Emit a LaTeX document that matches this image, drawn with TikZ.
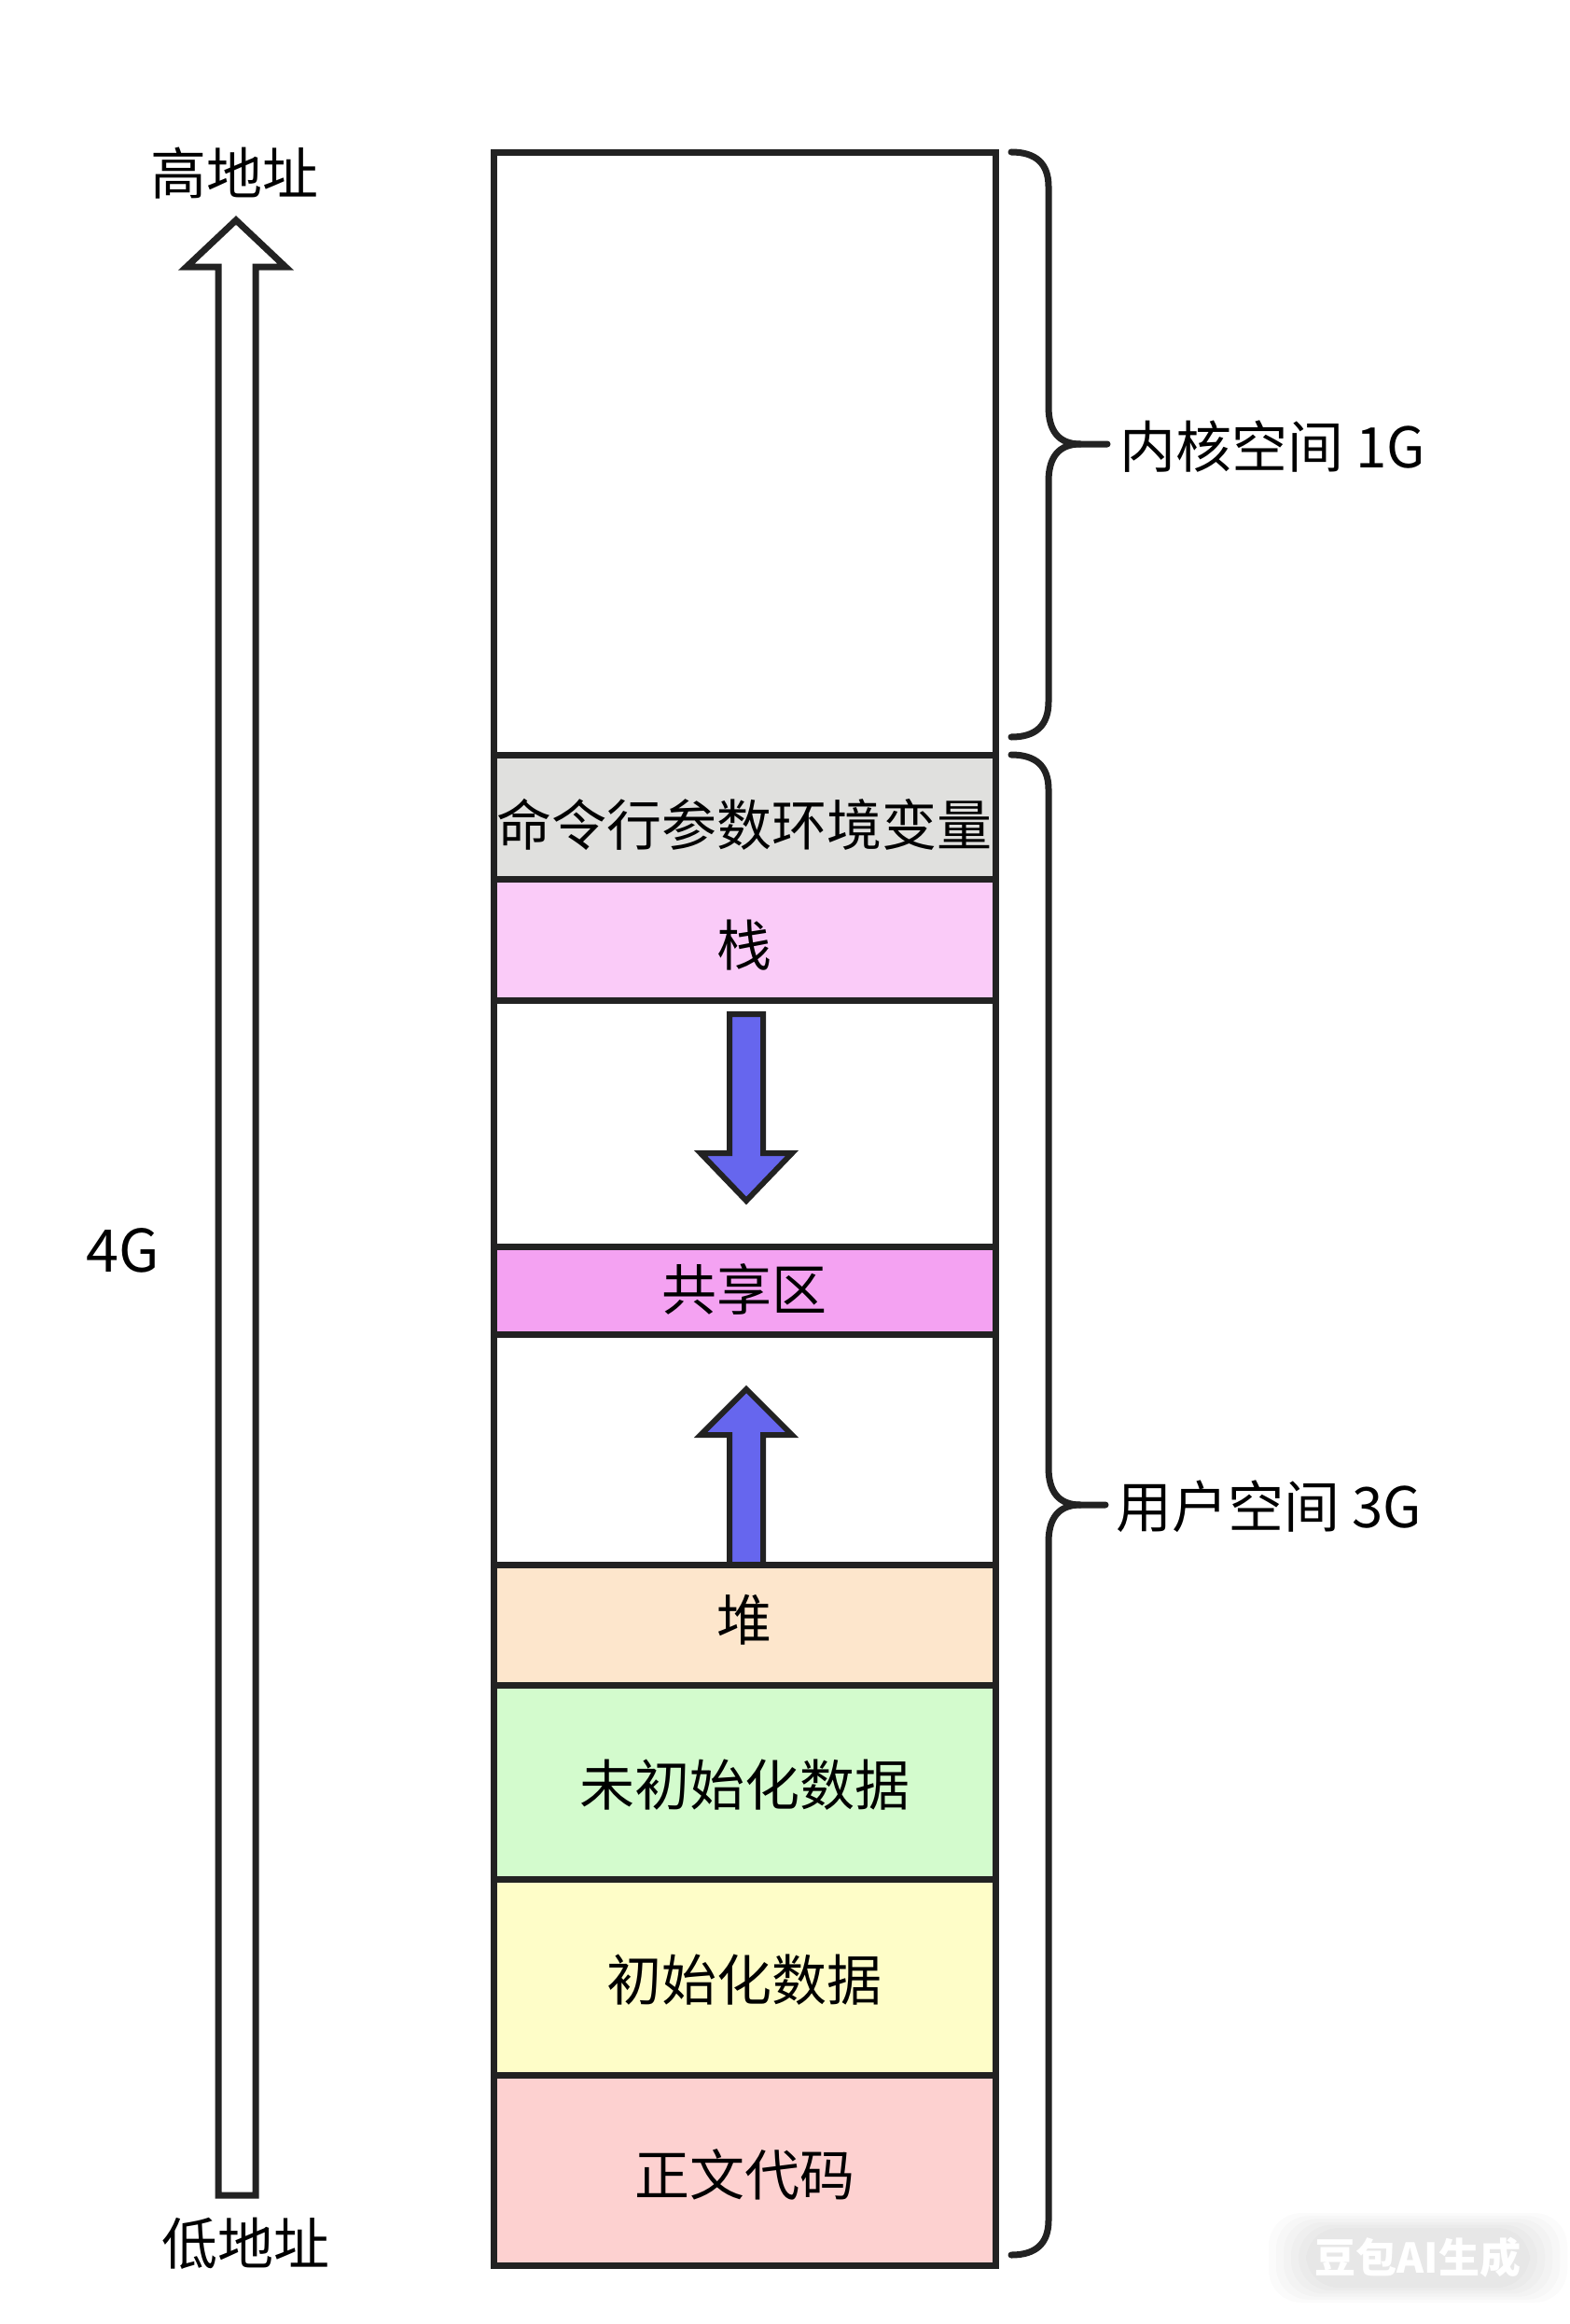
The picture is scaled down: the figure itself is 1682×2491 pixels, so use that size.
\documentclass[tikz,border=0pt]{standalone}
\usepackage{fontspec}
\setmainfont{Noto Sans CJK SC}
\definecolor{lineC}{HTML}{222222}
\definecolor{grayC}{HTML}{E0E0DE}
\definecolor{stackC}{HTML}{FACBF8}
\definecolor{shareC}{HTML}{F4A2F2}
\definecolor{heapC}{HTML}{FDE6CC}
\definecolor{bssC}{HTML}{D3FBCD}
\definecolor{dataC}{HTML}{FEFDC8}
\definecolor{textC}{HTML}{FDD1D0}
\definecolor{blueC}{HTML}{6666EE}
\tikzset{
  seg/.style={draw=lineC, line width=7pt, minimum width=538pt, inner sep=0pt, outer sep=0pt},
  segtext/.style={font=\fontsize{59}{70}\selectfont, text=black, inner sep=0pt},
  lbl/.style={font=\fontsize{60}{72}\selectfont, text=black, inner sep=0pt},
  brace/.style={draw=lineC, line width=7pt, line cap=round, line join=round},
  hollow/.style={draw=lineC, line width=7pt, line join=miter, fill=white},
  bluearrow/.style={draw=lineC, line width=6pt, line join=miter, fill=blueC}
}
\begin{document}
\begin{tikzpicture}[x=1pt,y=-1pt]
\useasboundingbox[fill=white] (0,0) rectangle (1682,2491);
% segments
\node[seg, fill=white, minimum height=645pt] (kernel) at (798,486.5) {};
\node[seg, fill=grayC, minimum height=133pt] (env) at (798,875.5) {};
\node[seg, fill=stackC, minimum height=130pt] (stack) at (798,1007) {};
\node[seg, fill=white, minimum height=264pt] (gapA) at (798,1204) {};
\node[seg, fill=shareC, minimum height=94pt] (share) at (798,1383) {};
\node[seg, fill=white, minimum height=247pt] (gapB) at (798,1553.5) {};
\node[seg, fill=heapC, minimum height=129pt] (heap) at (798,1741.5) {};
\node[seg, fill=bssC, minimum height=208pt] (bss) at (798,1910) {};
\node[seg, fill=dataC, minimum height=210pt] (data) at (798,2119) {};
\node[seg, fill=textC, minimum height=204pt] (code) at (798,2326) {};
% segment texts
\node[segtext] (envT) at (798,884) {命令行参数环境变量};
\node[segtext] (stackT) at (798,1013) {栈};
\node[segtext] (shareT) at (798,1382) {共享区};
\node[segtext] (heapT) at (798,1736) {堆};
\node[segtext] (bssT) at (798,1913) {未初始化数据};
\node[segtext] (dataT) at (798,2122) {初始化数据};
\node[segtext] (codeT) at (798,2331) {正文代码};
% blue arrows
\draw[bluearrow] (782,1087) -- (818,1087) -- (818,1236) -- (849,1236) -- (800,1287) -- (751,1236) -- (782,1236) -- cycle;
\draw[bluearrow] (782,1677) -- (782,1538) -- (751,1538) -- (800,1489) -- (849,1538) -- (818,1538) -- (818,1677) -- cycle;
% left hollow arrow
\draw[hollow] (253,236) -- (306,286) -- (274,286) -- (274,2353) -- (234,2353) -- (234,286) -- (200,286) -- cycle;
\node[lbl] (high) at (251,186) {高地址};
\node[lbl] (low) at (263,2405) {低地址};
\node[lbl, font=\fontsize{63}{72}\selectfont] (four) at (132,1340) {4G};
% kernel brace
\coordinate (kt) at (1187,476);
\draw[brace] (1084,163) .. controls (1110,163) and (1124,175) .. (1124,200) -- (1124,436)
  .. controls (1124,462) and (1135,476) .. (1158,476) -- (kt);
\draw[brace] (1158,476) .. controls (1135,476) and (1124,490) .. (1124,516) -- (1124,752)
  .. controls (1124,778) and (1110,790) .. (1084,790);
\node[lbl, anchor=west] (klabel) at (1200,479) {内核空间 1G};
% user brace
\coordinate (ut) at (1185,1613);
\draw[brace] (1084,809) .. controls (1110,809) and (1124,821) .. (1124,846) -- (1124,1573)
  .. controls (1124,1599) and (1135,1613) .. (1158,1613) -- (ut);
\draw[brace] (1158,1613) .. controls (1135,1613) and (1124,1627) .. (1124,1653) -- (1124,2380)
  .. controls (1124,2405) and (1110,2417) .. (1084,2417);
\node[lbl, anchor=west] (ulabel) at (1196,1615) {用户空间 3G};
% watermark glow
\foreach \r in {0,8,16,24,32,40} {
  \fill[black, opacity=0.016, rounded corners=35pt] (1360+\r,2372+0.4*\r) rectangle (1680-\r,2468-0.4*\r);
}
\node[font=\fontsize{44}{50}\selectfont\bfseries, text=white, inner sep=0pt] (wm) at (1520,2420) {豆包AI生成};
\end{tikzpicture}
\end{document}
